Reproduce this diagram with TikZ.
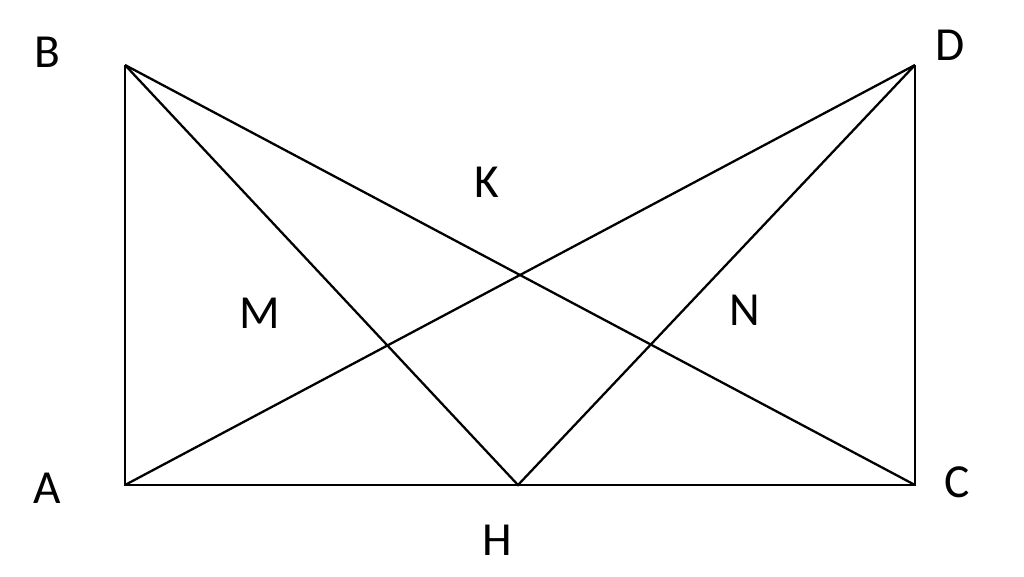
\documentclass[tikz,border=0pt]{standalone}
\usepackage{fontspec}
\setmainfont{Carlito}
\begin{document}
\begin{tikzpicture}[line width=0.65pt, lbl/.style={inner sep=0pt, font=\fontsize{13.5}{15}\selectfont}]
\useasboundingbox (0,0) rectangle (10.24,5.76);
\coordinate (A) at (1.25,0.91);
\coordinate (B) at (1.25,5.11);
\coordinate (C) at (9.15,0.91);
\coordinate (D) at (9.15,5.11);
\coordinate (H) at (5.18,0.91);

\draw (B) -- (A) -- (C) -- (D);
\draw (B) -- (C);
\draw (A) -- (D);
\draw (B) -- (H) -- (D);

\node[lbl] (labB) at (0.47,5.24) {B};
\node[lbl] (labD) at (9.50,5.31) {D};
\node[lbl] (labA) at (0.47,0.88) {A};
\node[lbl] (labC) at (9.57,0.94) {C};
\node[lbl] (labH) at (4.97,0.36) {H};
\node[lbl] (labK) at (4.87,3.94) {K};
\node[lbl] (labM) at (2.60,2.63) {M};
\node[lbl] (labN) at (7.45,2.66) {N};
\end{tikzpicture}
\end{document}
